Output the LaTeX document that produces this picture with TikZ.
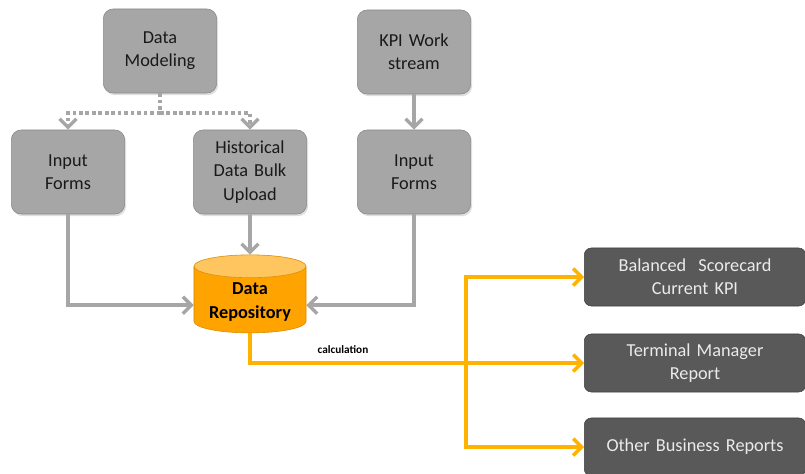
\documentclass[tikz,border=0pt]{standalone}
\usepackage{fontspec}
\setmainfont{Carlito}
\usepackage{xcolor}
\usepackage{tikz}
\usetikzlibrary{shapes.geometric, arrows.meta, positioning, calc, shadows}

\definecolor{stagefill}{HTML}{A6A6A6}
\definecolor{stageedge}{HTML}{8A8A8A}
\definecolor{reportfill}{HTML}{595959}
\definecolor{reportedge}{HTML}{404040}
\definecolor{storebody}{HTML}{FFA300}
\definecolor{storetop}{HTML}{FFC55E}
\definecolor{linegray}{HTML}{A6A6A6}
\definecolor{lineorange}{HTML}{FFB300}

\begin{document}
\begin{tikzpicture}[
    x=0.025cm, y=-0.025cm,
    stage/.style={rectangle, draw=stageedge, fill=stagefill, rounded corners=7pt, minimum width=2.8cm, minimum height=2.1cm, text width=2.6cm, align=center, font=\fontsize{13}{16.5}\selectfont, text=black!90, drop shadow={opacity=0.25, shadow xshift=1pt, shadow yshift=-1.5pt}},
    report/.style={rectangle, draw=reportedge, fill=reportfill, rounded corners=5pt, minimum width=5.45cm, minimum height=1.45cm, text width=5.3cm, align=center, font=\fontsize{13}{16.5}\selectfont, text=white!92!black},
    store/.style={cylinder, shape border rotate=90, aspect=0.25, draw=storebody!85!black, cylinder uses custom fill, cylinder body fill=storebody, cylinder end fill=storetop, minimum width=2.8cm, minimum height=1.95cm, align=center, font=\bfseries\fontsize{13}{16.5}\selectfont},
    flow/.style={-{Straight Barb[length=6pt, width=12pt, line width=2.4pt]}, line width=2.6pt, draw=linegray},
    dotflow/.style={flow, dash pattern=on 2.6pt off 2pt},
    calcflow/.style={flow, draw=lineorange},
    note/.style={font=\bfseries\fontsize{8}{10}\selectfont}
]
\useasboundingbox (0,0) rectangle (805,474);

% Sources
\node[stage] (model) at (160,51) {Data\\Modeling};
\node[stage] (kpi) at (414,52) {KPI Work\\stream};

% Inputs
\node[stage] (formsL) at (68,172) {Input\\Forms};
\node[stage] (hist) at (250,172) {Historical\\Data Bulk\\Upload};
\node[stage] (formsR) at (414,172) {Input\\Forms};

% Repository
\node[store] (repo) at (250,302) {Data\\Repository};

% Reports
\node[report] (bsc) at (695,277) {Balanced\ \ Scorecard\\Current KPI};
\node[report] (tmr) at (695,363) {Terminal Manager\\Report};
\node[report] (obr) at (695,447) {Other Business Reports};

\node[note] (calc) at (343,350) {calculation};

% Branch points
\coordinate (fork) at (160,113);
\coordinate (split) at (466,363);

% Arrows - modelling
\draw[dotflow] (model.south) -- (fork) -| (formsL.north);
\draw[dotflow] (fork) -| (hist.north);
\draw[flow] (kpi) -- (formsR);

% Arrows - into repository
\draw[flow] (hist) -- (repo.north);
\draw[flow] (formsL.south) |- ([yshift=-0.08cm]repo.west);
\draw[flow] (formsR.south) |- ([yshift=-0.08cm]repo.east);

% Arrows - calculation to reports
\draw[line width=2.6pt, draw=lineorange] (repo.south) |- (split);
\draw[calcflow] (split) |- (bsc.west);
\draw[calcflow] (split) -- (tmr.west);
\draw[calcflow] (split) |- (obr.west);

\end{tikzpicture}
\end{document}
